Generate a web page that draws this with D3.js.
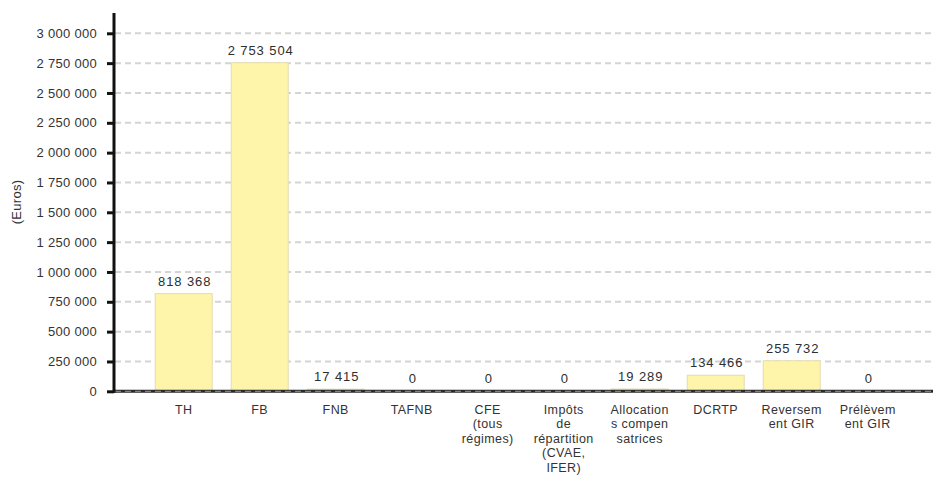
<!DOCTYPE html>
<html>
<head>
<meta charset="utf-8">
<script src="https://cdn.jsdelivr.net/npm/d3@7"></script>
<style>
  html, body { margin: 0; padding: 0; background: #fff; }
  svg { display: block; font-family: "Liberation Sans", Arial, sans-serif; }
</style>
</head>
<body>
<svg id="chart" width="933" height="477"></svg>
<script>
// Receipts by tax category (euros)
const categories = ["TH", "FB", "FNB", "TAFNB", "CFE (tous régimes)",
  "Impôts de répartition (CVAE, IFER)", "Allocations compensatrices",
  "DCRTP", "Reversement GIR", "Prélèvement GIR"];
const categoryLines = [
  ["TH"], ["FB"], ["FNB"], ["TAFNB"], ["CFE", "(tous", "régimes)"],
  ["Impôts", "de", "répartition", "(CVAE,", "IFER)"],
  ["Allocation", "s compen", "satrices"], ["DCRTP"],
  ["Reversem", "ent GIR"], ["Prélèvem", "ent GIR"]
];
const values = [818368, 2753504, 17415, 0, 0, 0, 19289, 134466, 255732, 0];
const yTicks = [0, 250000, 500000, 750000, 1000000, 1250000, 1500000,
  1750000, 2000000, 2250000, 2500000, 2750000, 3000000];
const yLabel = "(Euros)";

const fr = d3.formatLocale({ decimal: ",", thousands: " ", grouping: [3], currency: ["", " €"] });
const fmt = fr.format(",d");

const svg = d3.select("#chart");
const axisX = 114, zeroY = 391.3, topY = 33.3;

const y = d3.scaleLinear().domain([0, 3000000]).range([zeroY, topY]);
const x = d3.scaleBand().domain(categories).range([145.7, 905.7])
  .paddingInner(0.25).paddingOuter(0.125);

// horizontal dashed grid
svg.append("g").selectAll("line").data(yTicks.filter(d => d > 0)).join("line")
  .attr("x1", axisX + 1).attr("x2", 933)
  .attr("y1", d => y(d)).attr("y2", d => y(d))
  .attr("stroke", "#d4d4d4").attr("stroke-width", 2)
  .attr("stroke-dasharray", "6,4");

// bars
svg.append("g").selectAll("rect").data(values).join("rect")
  .attr("x", (d, i) => x(categories[i]))
  .attr("width", x.bandwidth())
  .attr("y", d => y(d))
  .attr("height", d => zeroY - y(d))
  .attr("fill", "#fff5aa")
  .attr("stroke", "#e3dcae").attr("stroke-width", 1);

// value labels
svg.append("g").selectAll("text").data(values).join("text")
  .attr("x", (d, i) => x(categories[i]) + x.bandwidth() / 2 + 1)
  .attr("y", d => y(d) - 8)
  .attr("text-anchor", "middle")
  .attr("font-size", 13).attr("letter-spacing", 0.9)
  .attr("fill", "#2e2e2e")
  .text(d => fmt(d));

// baseline: dark line with light dashes on top
svg.append("line").attr("x1", axisX).attr("x2", 933)
  .attr("y1", zeroY).attr("y2", zeroY)
  .attr("stroke", "#2a2a2a").attr("stroke-width", 3);
svg.append("line").attr("x1", axisX + 1).attr("x2", 933)
  .attr("y1", zeroY).attr("y2", zeroY)
  .attr("stroke", "#9a9a9a").attr("stroke-width", 1)
  .attr("stroke-dasharray", "6,4");

// y axis
const yAxis = d3.axisLeft(y).tickValues(yTicks).tickFormat(fmt)
  .tickSize(7).tickPadding(10);
const gy = svg.append("g").attr("transform", `translate(${axisX},0)`).call(yAxis);
gy.select(".domain").remove();
gy.selectAll(".tick line").attr("stroke", "#111").attr("stroke-width", 3);
gy.selectAll(".tick text").attr("font-size", 13).attr("fill", "#333")
  .attr("font-family", "Liberation Sans, Arial, sans-serif").attr("letter-spacing", 0.3);
svg.append("line").attr("x1", axisX).attr("x2", axisX)
  .attr("y1", 13).attr("y2", zeroY + 1.5)
  .attr("stroke", "#111").attr("stroke-width", 3);

// x category labels
const xl = svg.append("g").selectAll("text").data(categories).join("text")
  .attr("text-anchor", "middle")
  .attr("font-size", 12.5).attr("letter-spacing", 0.4).attr("fill", "#333")
  .attr("transform", d => `translate(${x(d) + x.bandwidth() / 2},413.5)`);
xl.selectAll("tspan").data((d, i) => categoryLines[i]).join("tspan")
  .attr("x", 0).attr("dy", (d, i) => i === 0 ? 0 : 14.6)
  .text(d => d);

// y axis title
svg.append("text")
  .attr("transform", "translate(21,202) rotate(-90)")
  .attr("text-anchor", "middle").attr("font-size", 13).attr("letter-spacing", 0.3)
  .attr("fill", "#333")
  .text(yLabel);
</script>
</body>
</html>
